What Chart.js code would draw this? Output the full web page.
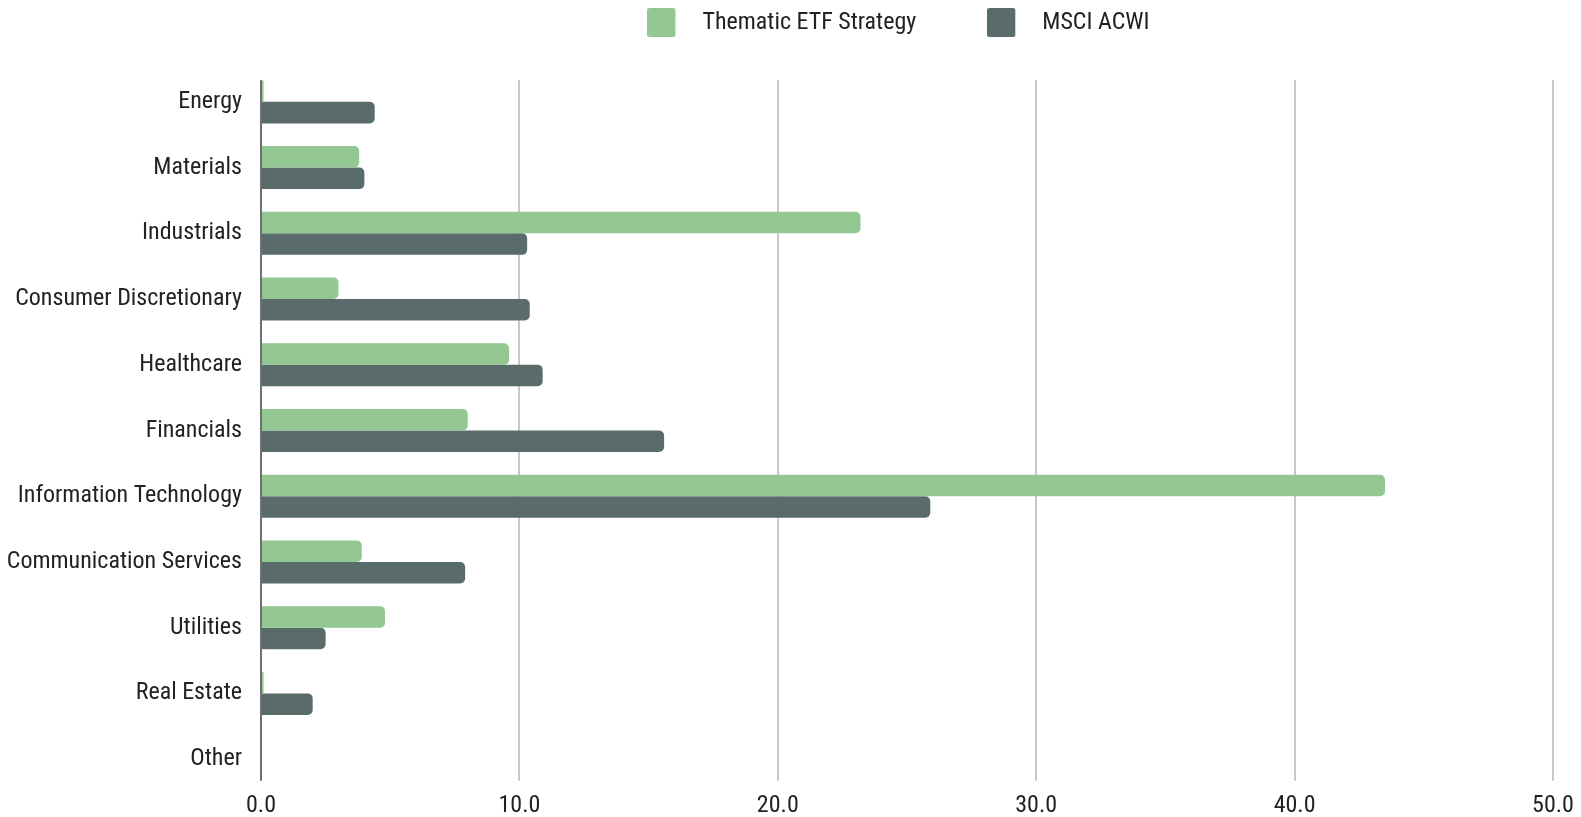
<!DOCTYPE html>
<html>
<head>
<meta charset="utf-8">
<script src="https://cdn.jsdelivr.net/npm/chart.js@4.4.1/dist/chart.umd.min.js"></script>
<style>
  html, body { margin: 0; padding: 0; background: #ffffff; }
  #wrap { width: 1581px; height: 817px; position: relative; }
</style>
</head>
<body>
<div id="wrap"><canvas id="c"></canvas></div>
<script>
const categories = ['Energy', 'Materials', 'Industrials', 'Consumer Discretionary', 'Healthcare',
  'Financials', 'Information Technology', 'Communication Services', 'Utilities', 'Real Estate', 'Other'];
const thematicValues = [0.1, 3.8, 23.2, 3.0, 9.6, 8.0, 43.5, 3.9, 4.8, 0.1, 0];
const msciValues = [4.4, 4.0, 10.3, 10.4, 10.9, 15.6, 25.9, 7.9, 2.5, 2.0, 0];
const seriesNames = ['Thematic ETF Strategy', 'MSCI ACWI'];
const seriesColors = ['#93c892', '#5a6b6c'];
const xTicks = [0, 10, 20, 30, 40, 50];

const FONT = "'Liberation Sans Narrow', 'Roboto Condensed', Roboto, sans-serif";
const CAT_PCT = 0.655;

// legend swatch icons: coloured square with a trailing gap before the text
function makeIcon(color) {
  const cv = document.createElement('canvas');
  cv.width = 43; cv.height = 29;
  const g = cv.getContext('2d');
  g.fillStyle = color;
  g.beginPath();
  if (g.roundRect) g.roundRect(0, 0, 28, 29, 2); else g.rect(0, 0, 28, 29);
  g.fill();
  return cv;
}
const legendIcons = seriesColors.map(makeIcon);

const legendPlugin = {
  id: 'legendTweak',
  beforeInit(chart) {
    const orig = chart.legend.fit;
    chart.legend.fit = function () {
      orig.bind(chart.legend)();
      this.height += 24.5;
    };
  },
  beforeDraw(chart) {
    const lg = chart.legend;
    if (!lg._shifted) { lg.left -= 8.5; lg.right -= 8.5; lg._shifted = true; }
  }
};

// Limit vertical grid lines/axis to the span of the bars (first to last category band)
const gridClip = {
  id: 'gridClip',
  beforeDraw(chart) {
    const ctx = chart.ctx, a = chart.chartArea, ys = chart.scales.y;
    const band = (ys.bottom - ys.top) / categories.length;
    const inset = band * (1 - CAT_PCT) / 2;
    ctx.save();
    ctx.beginPath();
    ctx.rect(0, 0, chart.width, chart.height);
    ctx.rect(a.left - 3, a.top - 1, a.right - a.left + 6, inset + 1);
    ctx.rect(a.left - 3, a.bottom - inset, a.right - a.left + 6, inset + 1);
    ctx.clip('evenodd');
  },
  beforeDatasetsDraw(chart) {
    chart.ctx.restore();
  }
};

new Chart(document.getElementById('c'), {
  type: 'bar',
  data: {
    labels: categories,
    datasets: [
      { label: seriesNames[0], data: thematicValues, backgroundColor: seriesColors[0], borderWidth: 0, borderRadius: 5 },
      { label: seriesNames[1], data: msciValues, backgroundColor: seriesColors[1], borderWidth: 0, borderRadius: 5 }
    ]
  },
  options: {
    indexAxis: 'y',
    responsive: true,
    maintainAspectRatio: false,
    animation: false,
    devicePixelRatio: 1,
    datasets: { bar: { categoryPercentage: CAT_PCT, barPercentage: 1.0 } },
    layout: { padding: { top: -60.5, right: 28, left: 0, bottom: 0 } },
    plugins: {
      legend: {
        position: 'top',
        align: 'center',
        fullSize: false,
        labels: {
          usePointStyle: true,
          pointStyleWidth: 43,
          padding: 71,
          color: '#222222',
          font: { family: FONT, size: 24 },
          generateLabels(chart) {
            const items = Chart.defaults.plugins.legend.labels.generateLabels(chart);
            items.forEach((it, i) => { it.pointStyle = legendIcons[i]; });
            return items;
          }
        }
      },
      tooltip: { enabled: false }
    },
    scales: {
      x: {
        type: 'linear',
        position: 'bottom',
        min: xTicks[0],
        max: xTicks[xTicks.length - 1],
        afterBuildTicks(s) { s.ticks = xTicks.map(v => ({ value: v })); },
        afterFit(s) { s.height = 25; },
        ticks: {
          color: '#222222',
          padding: 0,
          font: { family: FONT, size: 24 },
          callback: v => Number(v).toFixed(1)
        },
        grid: { color: '#c8c8c8', lineWidth: 2, drawTicks: false },
        border: { display: false }
      },
      y: {
        type: 'category',
        afterFit(s) { s.width = 261; },
        ticks: {
          color: '#222222',
          padding: 0,
          font: { family: FONT, size: 24 }
        },
        grid: { display: false, drawTicks: true, tickLength: 19 },
        border: { display: true, color: '#707070', width: 2 }
      }
    }
  },
  plugins: [legendPlugin, gridClip]
});
</script>
</body>
</html>
